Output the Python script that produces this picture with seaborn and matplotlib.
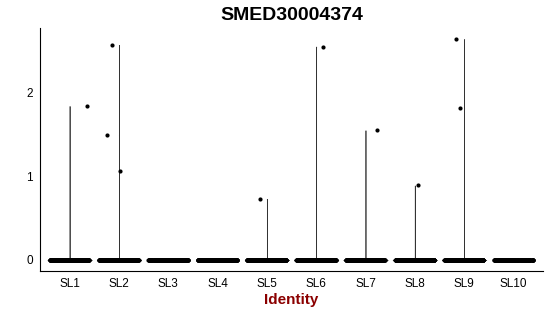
import numpy as np
import pandas as pd
import matplotlib
matplotlib.use("Agg")
import matplotlib.pyplot as plt
import seaborn as sns

# ---- data ----
groups = ["SL1", "SL2", "SL3", "SL4", "SL5", "SL6", "SL7", "SL8", "SL9", "SL10"]
zero_counts = [300, 290, 260, 260, 270, 290, 260, 250, 250, 160]
nonzero_SL1 = [1.84]
nonzero_SL2 = [1.06, 1.49, 2.57]
nonzero_SL3 = []
nonzero_SL4 = []
nonzero_SL5 = [0.73]
nonzero_SL6 = [2.55]
nonzero_SL7 = [1.55]
nonzero_SL8 = [0.89]
nonzero_SL9 = [1.81, 2.64]
nonzero_SL10 = []
nonzero = [nonzero_SL1, nonzero_SL2, nonzero_SL3, nonzero_SL4, nonzero_SL5,
           nonzero_SL6, nonzero_SL7, nonzero_SL8, nonzero_SL9, nonzero_SL10]
title = "SMED30004374"
xlabel = "Identity"
yticks = [0, 1, 2]

rows = []
for g, nz, vals in zip(groups, zero_counts, nonzero):
    for _ in range(nz):
        rows.append((g, 0.0))
    for v in vals:
        rows.append((g, v))
df = pd.DataFrame(rows, columns=["ident", "expr"])
df["ident"] = pd.Categorical(df["ident"], categories=groups, ordered=True)

sns.set_style("white")
plt.rcParams["font.family"] = ["Liberation Sans", "DejaVu Sans"]

fig = plt.figure(figsize=(5.5, 3.16), dpi=100)
ax = fig.add_axes([40/550, 1-271/316, (543-40)/550, (271-28)/316])

# violins: only those groups with spread (single-valued groups have no density)
vdf = df[df["ident"].isin([g for g, v in zip(groups, nonzero) if len(v) > 0])].copy()
vdf["ident"] = pd.Categorical(vdf["ident"].astype(str), categories=groups, ordered=True)
sns.violinplot(data=vdf, x="ident", y="expr", order=groups, density_norm="width",
               cut=0, inner=None, linewidth=0.5, color="white", linecolor="#333333",
               width=0.9, bw_adjust=0.12, gridsize=400, ax=ax, zorder=1)

np.random.seed(7)
sns.stripplot(data=df, x="ident", y="expr", order=groups, jitter=0.4, size=3.0,
              color="black", linewidth=0, ax=ax, zorder=3)

ymax = df["expr"].max()
pad = 0.05 * ymax
ax.set_ylim(-pad, ymax + pad)
ax.set_xlim(-0.6, len(groups) - 0.4)
ax.set_yticks(yticks)
ax.set_yticklabels([str(t) for t in yticks])

for s in ["top", "right"]:
    ax.spines[s].set_visible(False)
for s in ["left", "bottom"]:
    ax.spines[s].set_color("black")
    ax.spines[s].set_linewidth(0.8)
ax.tick_params(axis="both", direction="out", length=3, width=0.8, color="black",
               labelsize=8.5, labelcolor="black", pad=2)
ax.set_xlabel(xlabel, fontsize=11, fontweight="bold", color="#8B0000", labelpad=2)
ax.set_ylabel("")
ax.set_title(title, fontsize=14, fontweight="bold", color="black", pad=6)

fig.savefig("out.png", dpi=100)
